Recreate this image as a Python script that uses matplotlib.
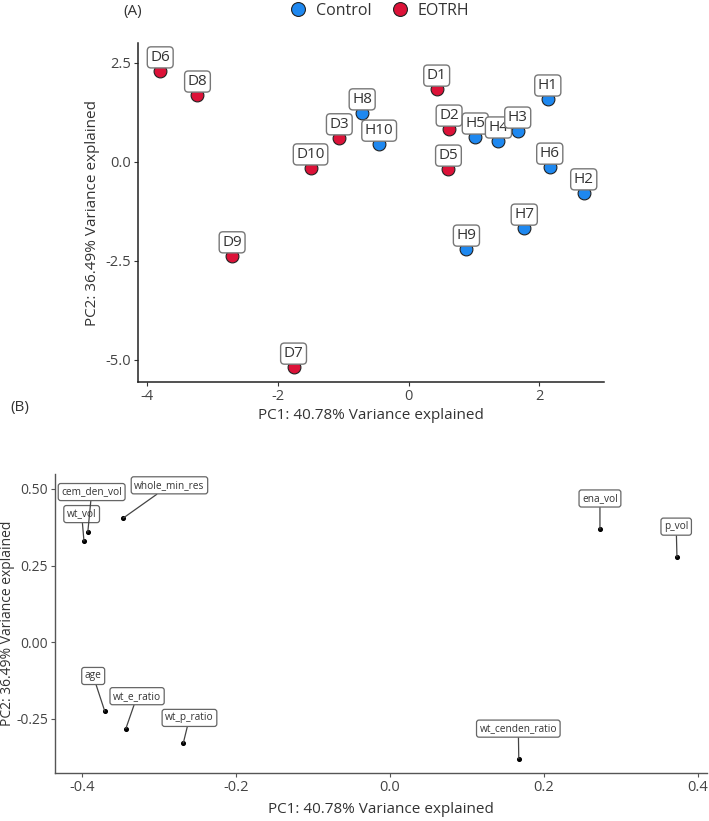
import matplotlib
matplotlib.use("Agg")
import matplotlib.pyplot as plt
from matplotlib.lines import Line2D

plt.rcParams['font.family'] = ['Open Sans', 'DejaVu Sans']

# ---- Panel A data: PCA scores ----
sample_ids = ["D6", "D8", "D3", "D10", "D1", "D2", "D5", "D9", "D7",
              "H8", "H10", "H5", "H4", "H3", "H1", "H6", "H2", "H7", "H9"]
groups = ["EOTRH"] * 9 + ["Control"] * 10
pc1 = [-3.80, -3.23, -1.06, -1.50, 0.43, 0.62, 0.61, -2.70, -1.76,
       -0.71, -0.45, 1.02, 1.375, 1.67, 2.13, 2.16, 2.68, 1.77, 0.885]
pc2 = [2.30, 1.69, 0.61, -0.15, 1.84, 0.83, -0.18, -2.37, -5.18,
       1.24, 0.45, 0.63, 0.53, 0.78, 1.59, -0.13, -0.78, -1.67, -2.20]
group_colors = {"Control": "#1E88F0", "EOTRH": "#DC1238"}

# ---- Panel B data: loadings ----
var_names = ["age", "wt_e_ratio", "wt_p_ratio", "wt_cenden_ratio", "wt_vol",
             "cem_den_vol", "whole_min_res", "ena_vol", "p_vol"]
load_pc1 = [-0.370, -0.3426, -0.268, 0.1676, -0.397, -0.392, -0.346, 0.273, 0.373]
load_pc2 = [-0.226, -0.283, -0.330, -0.381, 0.330, 0.359, 0.405, 0.369, 0.278]
# repelled label positions
lab_x = [-0.385, -0.328, -0.260, 0.167, -0.400, -0.387, -0.286, 0.273, 0.372]
lab_y = [-0.111, -0.177, -0.248, -0.283, 0.418, 0.490, 0.512, 0.469, 0.377]

xlab = "PC1: 40.78% Variance explained"
ylab = "PC2: 36.49% Variance explained"

W, H = 709, 821
fig = plt.figure(figsize=(W / 100, H / 100), dpi=100)

# ---------------- Panel A ----------------
axA = fig.add_axes([138 / W, 1 - 382 / H, 466 / W, 339 / H])
for g in ["Control", "EOTRH"]:
    xs = [x for x, gg in zip(pc1, groups) if gg == g]
    ys = [y for y, gg in zip(pc2, groups) if gg == g]
    axA.scatter(xs, ys, s=85, color=group_colors[g], edgecolor="#222222",
                linewidth=0.8, zorder=3)
for sid, x, y in zip(sample_ids, pc1, pc2):
    axA.annotate(sid, (x, y), xytext=(0, 9.6), textcoords="offset points",
                 ha="center", va="center", fontsize=11, color="#333333", zorder=5,
                 bbox=dict(boxstyle="round,pad=0.2,rounding_size=0.25", fc="white",
                           ec="#777777", lw=1.0))
axA.set_xlim(-4.14, 2.99)
axA.set_ylim(-5.56, 3.0)
axA.set_xticks([-4, -2, 0, 2])
axA.set_xticklabels(["-4", "-2", "0", "2"])
axA.set_yticks([2.5, 0.0, -2.5, -5.0])
axA.set_yticklabels(["2.5", "0.0", "-2.5", "-5.0"])
for s in ["top", "right"]:
    axA.spines[s].set_visible(False)
for s in ["left", "bottom"]:
    axA.spines[s].set_color("#222222")
    axA.spines[s].set_linewidth(1.1)
axA.tick_params(length=3, width=0.8, color="#333333", labelsize=10.5,
                labelcolor="#444444", pad=2)
axA.set_xlabel(xlab, fontsize=11, color="#333333", labelpad=3)
axA.set_ylabel(ylab, fontsize=11, color="#333333")
axA.yaxis.set_label_coords(-(138 - 100) / 466, 0.5)

# Legend
handles = [Line2D([0], [0], marker="o", linestyle="", markersize=10,
                  markerfacecolor=group_colors[g], markeredgecolor="#222222",
                  markeredgewidth=0.8, label=g) for g in ["Control", "EOTRH"]]
fig.legend(handles=handles, loc="center", bbox_to_anchor=(376 / W, 1 - 11 / H),
           ncol=2, frameon=False, fontsize=11.5, handletextpad=0.1,
           columnspacing=0.8, labelcolor="#333333")
fig.text(133 / W, 1 - 11 / H, "(A)", ha="center", va="center", fontsize=11,
         color="#333333")

# ---------------- Panel B ----------------
axB = fig.add_axes([55 / W, 1 - 773 / H, 652 / W, 299 / H])
axB.scatter(load_pc1, load_pc2, s=7, color="black", zorder=3)
for name, x, y, tx, ty in zip(var_names, load_pc1, load_pc2, lab_x, lab_y):
    axB.annotate(name, (x, y), xytext=(tx, ty), textcoords="data",
                 ha="center", va="center", fontsize=7.3, color="#333333",
                 zorder=5,
                 bbox=dict(boxstyle="round,pad=0.3,rounding_size=0.25", fc="white",
                           ec="#666666", lw=0.9),
                 arrowprops=dict(arrowstyle="-", color="#444444", lw=0.9,
                                 shrinkA=0, shrinkB=0))
axB.set_xlim(-0.4346, 0.412)
axB.set_ylim(-0.428, 0.549)
axB.set_xticks([-0.4, -0.2, 0.0, 0.2, 0.4])
axB.set_xticklabels(["-0.4", "-0.2", "0.0", "0.2", "0.4"])
axB.set_yticks([0.50, 0.25, 0.00, -0.25])
axB.set_yticklabels(["0.50", "0.25", "0.00", "-0.25"])
for s in ["top", "right"]:
    axB.spines[s].set_visible(False)
for s in ["left", "bottom"]:
    axB.spines[s].set_color("#555555")
    axB.spines[s].set_linewidth(1.0)
axB.tick_params(length=3, width=0.8, color="#555555", labelsize=10.5,
                labelcolor="#444444", pad=2)
axB.tick_params(axis="y", labelsize=10)
axB.set_xlabel(xlab, fontsize=11, color="#333333", labelpad=5)
axB.set_ylabel(ylab, fontsize=10, color="#333333")
axB.yaxis.set_label_coords(-(55 - 15) / 652, 0.5)
fig.text(20 / W, 1 - 407 / H, "(B)", ha="center", va="center", fontsize=11,
         color="#333333")

fig.savefig("out.png", dpi=100)
